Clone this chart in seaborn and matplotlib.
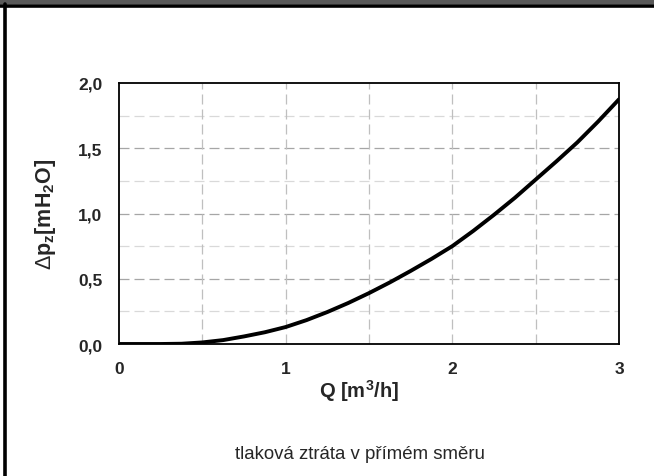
import matplotlib
matplotlib.use("Agg")
import matplotlib.pyplot as plt
import seaborn as sns
import pandas as pd
from matplotlib.ticker import FuncFormatter
from matplotlib.patches import Rectangle
from matplotlib.lines import Line2D

# data
flow_q = [0.0, 0.125, 0.25, 0.375, 0.5, 0.625, 0.75, 0.875, 1.0, 1.125, 1.25, 1.375,
          1.5, 1.625, 1.75, 1.875, 2.0, 2.125, 2.25, 2.375, 2.5, 2.625, 2.75, 2.875, 3.0]
pressure_drop = [0.0, 0.0, 0.0, 0.002, 0.012, 0.03, 0.058, 0.09, 0.13, 0.183, 0.245, 0.314,
                 0.39, 0.472, 0.56, 0.652, 0.75, 0.866, 0.99, 1.12, 1.26, 1.40, 1.545, 1.705, 1.875]
x_ticks = [0, 1, 2, 3]
y_ticks = [0.0, 0.5, 1.0, 1.5, 2.0]
caption = "tlaková ztráta v přímém směru"

df = pd.DataFrame({"Q": flow_q, "dp": pressure_drop})

sns.set_theme(style="white")
plt.rcParams["font.family"] = ["Liberation Sans", "DejaVu Sans"]
plt.rcParams["mathtext.fontset"] = "custom"
plt.rcParams["mathtext.rm"] = "Liberation Sans"
plt.rcParams["mathtext.bf"] = "Liberation Sans:bold"
plt.rcParams["mathtext.it"] = "Liberation Sans:italic"

fig = plt.figure(figsize=(6.54, 4.77), dpi=100)
fig.patch.set_facecolor("white")

# frame decorations
fig.add_artist(Rectangle((0, 1 - 5/477), 1, 5/477, transform=fig.transFigure,
                         facecolor="#595959", edgecolor="none"))
fig.add_artist(Line2D([0, 1], [1 - 6.5/477, 1 - 6.5/477], transform=fig.transFigure,
                      color="black", lw=2.6))
fig.add_artist(Line2D([4.5/654, 4.5/654], [0, 1 - 5/477], transform=fig.transFigure,
                      color="black", lw=2.6))

ax = fig.add_axes([119/654, (477-345)/477, 500/654, 261/477])

# grid
for yv in [0.25, 0.75, 1.25, 1.75]:
    ax.axhline(yv, color="#D9D9D9", lw=0.9, ls=(0, (8, 4)), zorder=1)
for yv in [0.5, 1.0, 1.5]:
    ax.axhline(yv, color="#A6A6A6", lw=0.9, ls=(0, (8, 4)), zorder=1)
for xv in [0.5, 1.0, 1.5, 2.0, 2.5]:
    ax.axvline(xv, color="#BFBFBF", lw=0.9, ls=(0, (8, 4)), zorder=1)

sns.lineplot(data=df, x="Q", y="dp", ax=ax, color="black", lw=2.8, zorder=3)

ax.set_xlim(0, 3)
ax.set_ylim(0, 2)
ax.set_xticks(x_ticks)
ax.set_yticks(y_ticks)
ax.yaxis.set_major_formatter(FuncFormatter(lambda v, p: f"{v:.1f}".replace(".", ",")))
ax.tick_params(axis="both", length=0, labelsize=12.5)
for lab in ax.get_xticklabels() + ax.get_yticklabels():
    lab.set_fontweight("bold")
ax.tick_params(axis="y", pad=12)
ax.tick_params(axis="x", pad=12)

for s in ax.spines.values():
    s.set_color("black")
    s.set_linewidth(1.3)
    s.set_visible(True)

ax.set_xlabel(r"$\mathbf{Q\ [m^3/h]}$", fontsize=14.5)
ax.set_ylabel(r"$\Delta\mathbf{p_z[mH_2O]}$", fontsize=15.5)
ax.xaxis.set_label_coords((359 - 119) / 500, -(378 - 345) / 261)
ax.yaxis.set_label_coords(-(119 - 58) / 500, 0.5)

fig.text(360/654, 1 - 455/477, caption, ha="center", va="center", fontsize=13.4)

fig.savefig("out.png", dpi=100)
